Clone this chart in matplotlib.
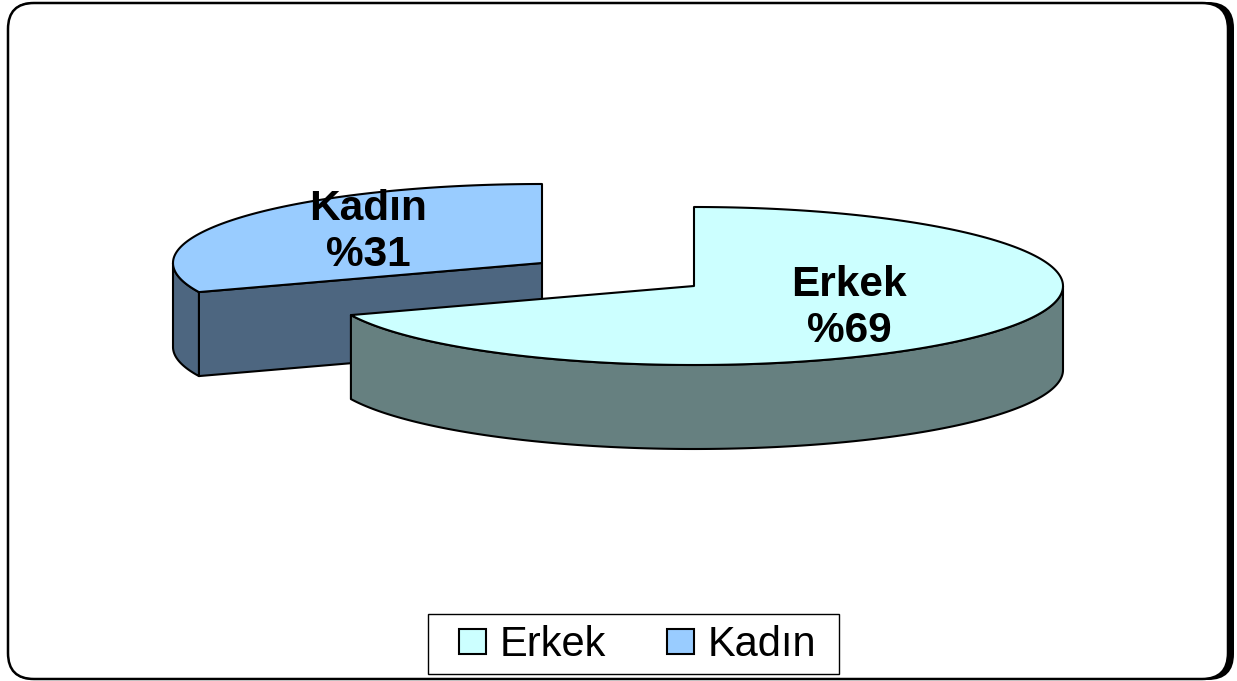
import numpy as np
import matplotlib
matplotlib.use("Agg")
import matplotlib.pyplot as plt
from matplotlib.patches import FancyBboxPatch, Polygon, Patch, Rectangle

categories = ["Erkek", "Kadın"]
shares = [69, 31]
top_colors = ["#CCFFFF", "#99CCFF"]
side_colors = ["#668080", "#4D6680"]

RX, RY, DEPTH = 369, 79, 84
CENTERS = {"Erkek": (694, 286), "Kadın": (542, 263)}
LABEL_POS = {"Erkek": (849, 308), "Kadın": (368, 232)}

plt.rcParams["font.family"] = ["Liberation Sans", "DejaVu Sans"]
fig = plt.figure(figsize=(12.37, 6.81), dpi=100)
ax = fig.add_axes([0, 0, 1, 1])
ax.set_xlim(0, 1237)
ax.set_ylim(681, 0)
ax.axis("off")

# frame with shadow
ax.add_patch(FancyBboxPatch((33, 27), 1176, 628, boxstyle="round,pad=25,rounding_size=26",
                            fc="black", ec="black", lw=0, zorder=0))
ax.add_patch(FancyBboxPatch((33, 28), 1170, 626, boxstyle="round,pad=25,rounding_size=26",
                            fc="white", ec="black", lw=1.8, zorder=1))


def rim(cx, cy, a0, a1, n=200):
    t = np.radians(np.linspace(a0, a1, n))
    return np.column_stack([cx + RX * np.sin(t), cy - RY * np.cos(t)])


def draw_slice(name, a0, a1, z):
    i = categories.index(name)
    cx, cy = CENTERS[name]
    top = rim(cx, cy, a0, a1)
    # outer wall, only the part facing the viewer (90..270 degrees clockwise from top)
    w0, w1 = max(a0, 90), min(a1, 270)
    kw = dict(ec="black", lw=1.5, joinstyle="round", zorder=z)
    if name == "Kadın":
        # cut face between centre and the left rim point
        p = top[0]
        ax.add_patch(Polygon([(cx, cy), p, p + (0, DEPTH), (cx, cy + DEPTH)],
                             fc=side_colors[i], **kw))
    if w1 > w0:
        a = rim(cx, cy, w0, w1)
        b = a[::-1] + (0, DEPTH)
        ax.add_patch(Polygon(np.vstack([a, b]), fc=side_colors[i], **kw))
    ax.add_patch(Polygon(np.vstack([[(cx, cy)], top]), fc=top_colors[i], **kw))


sweep = [s / sum(shares) * 360 for s in shares]
draw_slice("Kadın", sweep[0], 360, 2)
draw_slice("Erkek", 0, sweep[0], 3)

for c, s in zip(categories, shares):
    x, y = LABEL_POS[c]
    ax.text(x, y, f"{c}\n%{s}", ha="center", va="center", fontsize=30.5, fontweight="bold",
            linespacing=1.22, color="black", zorder=5)

# legend box
ax.add_patch(Rectangle((428, 614), 411, 60, fc="white", ec="black", lw=1, zorder=6))
handles = [Patch(fc=f, ec="black", lw=1.5) for f in top_colors]
leg = ax.legend(handles, categories, loc="center", bbox_to_anchor=(637.5, 645),
                bbox_transform=ax.transData, ncol=2, fontsize=30, frameon=False,
                handlelength=0.65, handleheight=0.53, handletextpad=0.32,
                columnspacing=1.46, borderpad=0, borderaxespad=0)
leg.set_zorder(7)
fig.savefig("out.png", dpi=100)
